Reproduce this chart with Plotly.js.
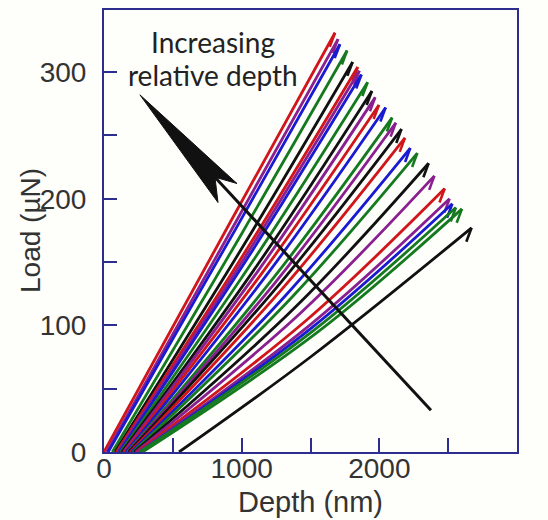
<!DOCTYPE html>
<html>
<head>
<meta charset="utf-8">
<script src="https://cdn.plot.ly/plotly-3.0.1.min.js"></script>
<style>
html,body{margin:0;padding:0;background:#fefefb;}
#chart{width:548px;height:520px;}
</style>
</head>
<body>
<div id="chart"></div>
<script>
// Indentation loading curves (depth in nm, load in µN)
const startDepth = [0, 20, 30, 60, 80, 90, 100, 110, 120, 130, 140, 150, 160, 170, 175, 180, 190, 200, 210, 220, 230, 240, 250, 260, 260, 280, 545];
const midDepth   = [920, 944, 956, 998, 1030, 1054, 1066, 1078, 1107, 1129, 1145, 1166, 1197, 1228, 1245, 1270, 1288, 1314, 1346, 1396, 1430, 1470, 1493, 1508, 1523, 1556, 1500];
const midLoad    = [182, 179, 176, 172, 166, 163, 161, 159, 155, 150, 147, 144, 142, 137, 134, 132, 128, 123, 120, 115, 110, 104, 100, 98, 96, 95, 75];
const peakDepth  = [1678, 1700, 1714, 1766, 1806, 1843, 1855, 1870, 1915, 1946, 1970, 1997, 2046, 2093, 2120, 2161, 2186, 2225, 2276, 2358, 2400, 2475, 2510, 2530, 2556, 2600, 2670];
const peakLoad   = [331, 326, 322, 317, 308, 304, 301, 298, 292, 285, 280, 274, 272, 264, 260, 255, 248, 240, 236, 228, 218, 208, 200, 196, 193, 192, 177];
const endDepth   = [1640, 1662, 1676, 1728, 1768, 1805, 1817, 1832, 1877, 1908, 1932, 1959, 2008, 2055, 2082, 2123, 2148, 2187, 2238, 2320, 2362, 2437, 2472, 2492, 2518, 2562, 2632];
const endLoad    = [320, 315, 311, 306, 297, 293, 290, 287, 281, 274, 269, 263, 261, 253, 249, 244, 237, 229, 225, 217, 207, 197, 189, 185, 182, 181, 166];
const curveColors = ['#d0151b', '#8a1f8f', '#1a1ad0', '#157a1f', '#111111', '#d0151b', '#8a1f8f', '#1a1ad0', '#157a1f', '#111111', '#8a1f8f', '#d0151b', '#1a1ad0', '#157a1f', '#8a1f8f', '#111111', '#d0151b', '#1a1ad0', '#157a1f', '#111111', '#8a1f8f', '#d0151b', '#8a1f8f', '#1a1ad0', '#157a1f', '#157a1f', '#111111'];

const xTickVals = [0, 500, 1000, 1500, 2000, 2500, 3000];
const xTickText = ['0', '', '1000', '', '2000', '', '3000'];
const yTickVals = [0, 50, 100, 150, 200, 250, 300];
const yTickText = ['0', '', '100', '', '200', '', '300'];

const traces = [];
startDepth.forEach((x0, i) => {
  // loading branch (smooth)
  traces.push({
    type: 'scatter', mode: 'lines',
    x: [x0, midDepth[i], peakDepth[i]],
    y: [0, midLoad[i], peakLoad[i]],
    line: {color: curveColors[i], width: 2.8, shape: 'spline', smoothing: 1},
    hoverinfo: 'skip', showlegend: false
  });
  // start of unloading at the peak
  traces.push({
    type: 'scatter', mode: 'lines',
    x: [peakDepth[i], endDepth[i]],
    y: [peakLoad[i], endLoad[i]],
    line: {color: curveColors[i], width: 2.6},
    hoverinfo: 'skip', showlegend: false
  });
});

const frame = '#2d2d90';
const textFont = 'Liberation Sans, Arial, sans-serif';
const layout = {
  width: 548, height: 520,
  margin: {l: 104, r: 31, t: 10, b: 68},
  paper_bgcolor: '#fefefb',
  plot_bgcolor: '#fefefb',
  showlegend: false,
  font: {family: textFont, color: '#333333'},
  xaxis: {
    range: [0, 3000], showgrid: false, zeroline: false,
    showline: true, linecolor: frame, linewidth: 2, mirror: true,
    ticks: 'inside', ticklen: 14, tickwidth: 2, tickcolor: frame,
    tickmode: 'array', tickvals: xTickVals, ticktext: xTickText,
    tickfont: {size: 28, family: textFont, color: '#333333'},
    ticklabelstandoff: -10,
    title: {text: 'Depth (nm)', font: {size: 29, family: textFont, color: '#333333'}, standoff: 9},
    automargin: false
  },
  yaxis: {
    range: [0, 349], showgrid: false, zeroline: false,
    showline: true, linecolor: frame, linewidth: 2, mirror: true,
    ticks: 'inside', ticklen: 13, tickwidth: 2, tickcolor: frame,
    tickmode: 'array', tickvals: yTickVals, ticktext: yTickText,
    tickfont: {size: 28, family: textFont, color: '#333333'},
    ticklabelstandoff: 10,
    automargin: false
  },
  shapes: [
    {type: 'line', xref: 'x', yref: 'y', x0: 2375, y0: 33, x1: 806, y1: 217,
     line: {color: '#111111', width: 3}},
    {type: 'path', xref: 'x', yref: 'y',
     path: 'M 261,282 L 828,197 L 806,217 L 966,212 Z',
     fillcolor: '#111111', line: {color: '#111111', width: 1}}
  ],
  annotations: [
    {xref: 'paper', yref: 'paper', x: (30 - 104) / 413, y: 0.5,
     text: 'Load (µN)', textangle: -90, showarrow: false, xanchor: 'center', yanchor: 'middle',
     font: {size: 28, family: textFont, color: '#333333'}},
    {xref: 'paper', yref: 'paper', x: (213 - 104) / 413, y: (452 - 42) / 442,
     text: 'Increasing', showarrow: false, xanchor: 'center', yanchor: 'middle',
     font: {family: 'Lato', size: 28, color: '#222222'}},
    {xref: 'paper', yref: 'paper', x: (213 - 104) / 413, y: (452 - 75) / 442,
     text: 'relative depth', showarrow: false, xanchor: 'center', yanchor: 'middle',
     font: {family: 'Lato', size: 28, color: '#222222'}}
  ]
};

Plotly.newPlot('chart', traces, layout, {staticPlot: true, displayModeBar: false});
</script>
</body>
</html>
